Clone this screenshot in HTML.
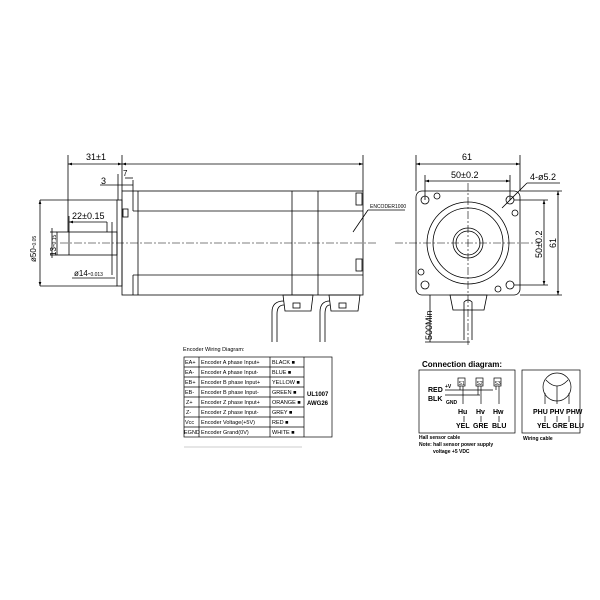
<!DOCTYPE html>
<html><head><style>
html,body{margin:0;padding:0;background:#fff;}
svg{display:block;}
text{font-family:"Liberation Sans",sans-serif;fill:#000;}
</style></head><body>
<svg width="600" height="600" viewBox="0 0 600 600" xmlns="http://www.w3.org/2000/svg">
<defs><marker id="a" viewBox="0 0 6 6" refX="6" refY="3" markerWidth="5" markerHeight="5" orient="auto-start-reverse"><path d="M0 1 L6 3 L0 5 Z" fill="#000"/></marker></defs>
<g stroke="#000" stroke-width="0.8" fill="none">
<line x1="68" y1="155" x2="68" y2="232"/>
<line x1="122" y1="155" x2="122" y2="191"/>
<line x1="363" y1="155" x2="363" y2="191"/>
<line x1="68" y1="164" x2="122" y2="164" marker-start="url(#a)" marker-end="url(#a)"/>
<line x1="122" y1="164" x2="363" y2="164" marker-start="url(#a)" marker-end="url(#a)"/>
<rect x="122" y="191" width="241" height="104"/>
<line x1="133" y1="180" x2="133" y2="211"/>
<line x1="133" y1="211" x2="363" y2="211"/>
<line x1="133" y1="275" x2="363" y2="275"/>
<line x1="133" y1="275" x2="133" y2="295"/>
<line x1="138" y1="191" x2="138" y2="295"/>
<line x1="292" y1="191" x2="292" y2="295"/>
<line x1="318" y1="191" x2="318" y2="295"/>
<rect x="356" y="193" width="6" height="12"/>
<rect x="356" y="259" width="6" height="12"/>
<rect x="123" y="209" width="5" height="8"/>
<rect x="117" y="200" width="5" height="86"/>
<line x1="40" y1="200" x2="117" y2="200"/>
<line x1="40" y1="286" x2="117" y2="286"/>
<line x1="40" y1="200" x2="40" y2="286" marker-start="url(#a)" marker-end="url(#a)"/>
<line x1="118" y1="174" x2="118" y2="200"/>
<line x1="100" y1="185" x2="133" y2="185"/>
<line x1="125" y1="178" x2="133" y2="178"/>
<rect x="57" y="232" width="60" height="23"/>
<line x1="69" y1="216" x2="69" y2="255"/>
<line x1="69" y1="222" x2="107" y2="222" marker-start="url(#a)"/>
<line x1="107" y1="222" x2="107" y2="232"/>
<line x1="50" y1="232" x2="57" y2="232"/>
<line x1="50" y1="255" x2="57" y2="255"/>
<line x1="52" y1="228" x2="52" y2="258"/>
<line x1="112" y1="222" x2="112" y2="275"/>
<line x1="72" y1="278" x2="115" y2="278"/>
<line x1="353" y1="232" x2="368" y2="210"/>
<line x1="368" y1="210" x2="405" y2="210"/>
<path d="M283 295 L313 295 L311 311 L285 311 Z"/>
<rect x="293" y="303" width="7" height="5"/>
<path d="M329 295 L360 295 L358 311 L331 311 Z"/>
<rect x="339" y="303" width="7" height="5"/>
<path d="M284 301 Q272 301 272 312 L272 342 M284 305 Q277 305 277 314 L277 342"/>
<path d="M330 301 Q320 301 320 312 L320 342 M330 305 Q325 305 325 314 L325 342"/>
<rect x="416" y="191" width="104" height="104" rx="6"/>
<circle cx="468" cy="243" r="41"/>
<circle cx="468" cy="243" r="35"/>
<circle cx="468" cy="243" r="15"/>
<circle cx="468" cy="243" r="12"/>
<circle cx="425" cy="200" r="4"/><circle cx="510" cy="200" r="4"/>
<circle cx="425" cy="285" r="4"/><circle cx="510" cy="285" r="4"/>
<circle cx="437" cy="196" r="3"/><circle cx="515" cy="213" r="3"/>
<circle cx="421" cy="272" r="3"/><circle cx="498" cy="289" r="3"/>
<line x1="416" y1="155" x2="416" y2="191"/>
<line x1="520" y1="155" x2="520" y2="191"/>
<line x1="416" y1="164" x2="520" y2="164" marker-start="url(#a)" marker-end="url(#a)"/>
<line x1="425" y1="175" x2="425" y2="200"/>
<line x1="510" y1="175" x2="510" y2="200"/>
<line x1="425" y1="181" x2="510" y2="181" marker-start="url(#a)" marker-end="url(#a)"/>
<line x1="502" y1="208" x2="527" y2="183"/>
<line x1="527" y1="183" x2="560" y2="183"/>
<line x1="520" y1="191" x2="562" y2="191"/>
<line x1="520" y1="295" x2="562" y2="295"/>
<line x1="514" y1="200" x2="548" y2="200"/>
<line x1="514" y1="285" x2="548" y2="285"/>
<line x1="558" y1="191" x2="558" y2="295" marker-start="url(#a)" marker-end="url(#a)"/>
<line x1="544" y1="200" x2="544" y2="285" marker-start="url(#a)" marker-end="url(#a)"/>
<path d="M450 295 L487 295 L484 310 L453 310 Z"/>
<path d="M464 302 Q468 298 472 302 L472 340 M464 302 L464 340"/>
<line x1="430" y1="295" x2="430" y2="342"/>
<line x1="425" y1="342" x2="470" y2="342"/>
</g>
<g stroke="#000" stroke-width="0.6" stroke-dasharray="8,2,2,2" fill="none">
<line x1="60" y1="243" x2="378" y2="243"/>
<line x1="395" y1="243" x2="540" y2="243"/>
<line x1="468" y1="183" x2="468" y2="345"/>
</g>
<g font-size="9">
<text x="86" y="160">31±1</text>
<text x="101" y="184">3</text>
<text x="123" y="176" font-size="8">7</text>
<text x="72" y="219" font-size="9">22±0.15</text>
<text x="74" y="276" font-size="8">ø14-<tspan font-size="5">0.013</tspan></text>
<text transform="translate(36,262) rotate(-90)" font-size="8">ø50-<tspan font-size="5">0.05</tspan></text>
<text transform="translate(56,256) rotate(-90)" font-size="8">13-<tspan font-size="5">0.15</tspan></text>
<text x="370" y="208" font-size="5">ENCODER1000</text>
<text x="462" y="160">61</text>
<text x="451" y="178">50±0.2</text>
<text x="530" y="180">4-ø5.2</text>
<text transform="translate(542,258) rotate(-90)">50±0.2</text>
<text transform="translate(556,248) rotate(-90)">61</text>
<text transform="translate(432,340) rotate(-90)">500Min</text>
</g>
<text x="183" y="351" font-size="5.5">Encoder Wiring Diagram:</text>
<g stroke="#000" stroke-width="0.7" fill="none">
<rect x="184" y="357" width="148" height="80"/>
<line x1="199" y1="357" x2="199" y2="437"/>
<line x1="270" y1="357" x2="270" y2="437"/>
<line x1="304" y1="357" x2="304" y2="437"/>
<line x1="184" y1="367" x2="304" y2="367"/>
<line x1="184" y1="377" x2="304" y2="377"/>
<line x1="184" y1="387" x2="304" y2="387"/>
<line x1="184" y1="397" x2="304" y2="397"/>
<line x1="184" y1="407" x2="304" y2="407"/>
<line x1="184" y1="417" x2="304" y2="417"/>
<line x1="184" y1="427" x2="304" y2="427"/>
<line x1="184" y1="447" x2="302" y2="447" stroke="#bbb"/>
</g>
<g font-size="5.5">
<text x="185" y="364">EA+</text><text x="201" y="364">Encoder A phase Input+</text><text x="272" y="364">BLACK ■</text>
<text x="185" y="374">EA-</text><text x="201" y="374">Encoder A phase Input-</text><text x="272" y="374">BLUE ■</text>
<text x="185" y="384">EB+</text><text x="201" y="384">Encoder B phase Input+</text><text x="272" y="384">YELLOW ■</text>
<text x="185" y="394">EB-</text><text x="201" y="394">Encoder B phase Input-</text><text x="272" y="394">GREEN ■</text>
<text x="186" y="404">Z+</text><text x="201" y="404">Encoder Z phase Input+</text><text x="272" y="404">ORANGE ■</text>
<text x="186" y="414">Z-</text><text x="201" y="414">Encoder Z phase Input-</text><text x="272" y="414">GREY ■</text>
<text x="185" y="424">Vcc</text><text x="201" y="424">Encoder Voltage(+5V)</text><text x="272" y="424">RED ■</text>
<text x="184" y="434">EGND</text><text x="201" y="434">Encoder Grand(0V)</text><text x="272" y="434">WHITE ■</text>
</g>
<text x="307" y="396" font-size="6" font-weight="bold">UL1007</text>
<text x="307" y="405" font-size="6" font-weight="bold">AWG26</text>
<text x="422" y="367" font-size="8" font-weight="bold">Connection diagram:</text>
<g stroke="#000" stroke-width="0.7" fill="none">
<rect x="419" y="370" width="96" height="63"/>
<rect x="522" y="370" width="58" height="63"/>
<rect x="458" y="378" width="7" height="8"/>
<rect x="476" y="378" width="7" height="8"/>
<rect x="494" y="378" width="7" height="8"/>
<line x1="445" y1="390" x2="493" y2="390"/>
<line x1="445" y1="395" x2="480" y2="395"/>
<line x1="460" y1="386" x2="460" y2="390"/><line x1="463" y1="386" x2="463" y2="404"/>
<line x1="478" y1="386" x2="478" y2="395"/><line x1="481" y1="386" x2="481" y2="404"/>
<line x1="496" y1="386" x2="496" y2="390"/><line x1="499" y1="386" x2="499" y2="404"/>
<line x1="464" y1="416" x2="464" y2="422"/><line x1="481" y1="416" x2="481" y2="422"/><line x1="499" y1="416" x2="499" y2="422"/>
<circle cx="557" cy="387" r="14"/>
<path d="M546 380 Q557 392 568 380 M557 386 L557 400"/>
<line x1="545" y1="393" x2="545" y2="404"/><line x1="557" y1="400" x2="557" y2="404"/><line x1="569" y1="393" x2="569" y2="404"/>
<line x1="545" y1="416" x2="545" y2="422"/><line x1="557" y1="416" x2="557" y2="422"/><line x1="569" y1="416" x2="569" y2="422"/>
</g>
<g font-size="7" font-weight="bold">
<text x="428" y="392">RED</text><text x="428" y="401">BLK</text>
<text x="445" y="388" font-size="5">+V</text><text x="446" y="404" font-size="5">GND</text>
<text x="458.5" y="385" font-size="5" font-weight="normal">S1</text>
<text x="476.5" y="385" font-size="5" font-weight="normal">S2</text>
<text x="494.5" y="385" font-size="5" font-weight="normal">S3</text>
<text x="458" y="414">Hu</text><text x="476" y="414">Hv</text><text x="493" y="414">Hw</text>
<text x="456" y="428">YEL</text><text x="473" y="428">GRE</text><text x="492" y="428">BLU</text>
<text x="533" y="414">PHU PHV PHW</text>
<text x="537" y="428">YEL GRE BLU</text>
</g>
<g font-size="5" font-weight="bold">
<text x="419" y="439">Hall sensor cable</text>
<text x="419" y="446">Note: hall sensor power supply</text>
<text x="433" y="453">voltage +5 VDC</text>
<text x="523" y="440">Wiring cable</text>
</g>
</svg>
</body></html>
